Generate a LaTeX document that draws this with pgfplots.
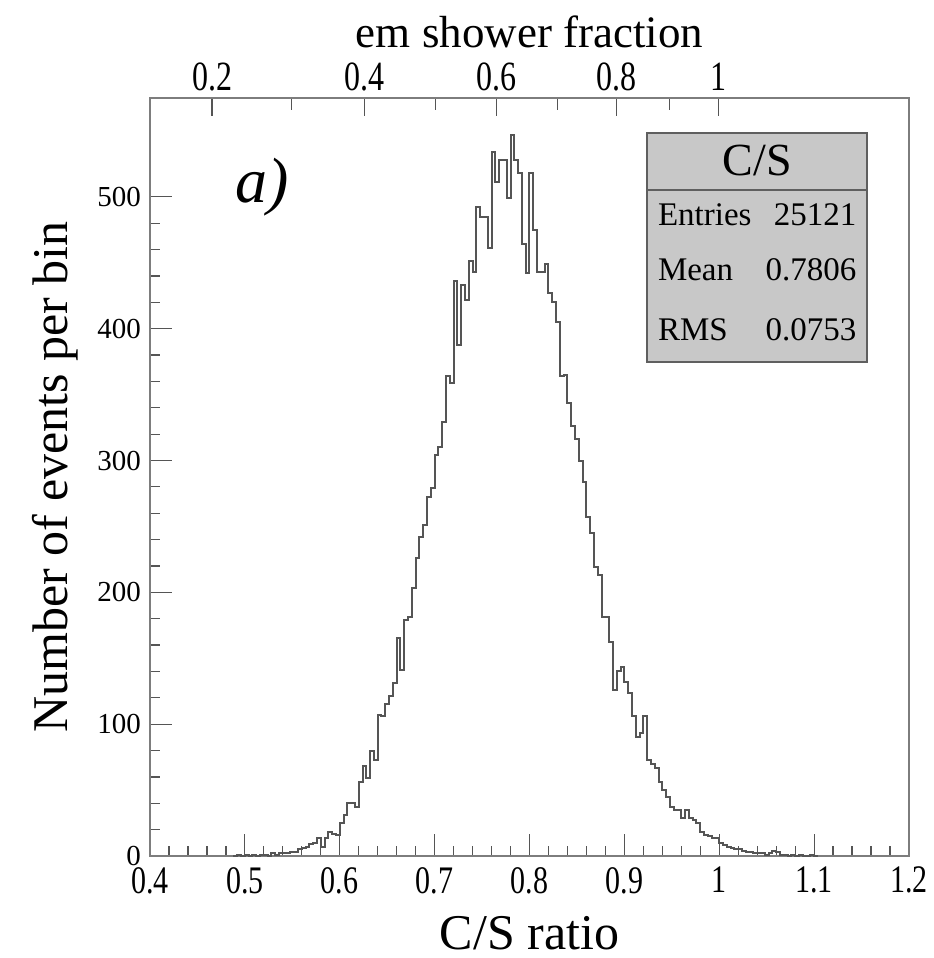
\documentclass[border=0pt]{standalone}
\usepackage{fontspec}
\setmainfont{Liberation Serif}
\usepackage{graphicx}
\usepackage{pgfplots}
\pgfplotsset{compat=1.18}

\definecolor{framegray}{RGB}{125,125,125}
\definecolor{histgray}{RGB}{85,85,85}
\definecolor{boxgray}{RGB}{200,200,200}
\definecolor{boxedge}{RGB}{95,95,95}

\newcommand{\tall}[1]{\scalebox{1}[1.3]{#1}}

% C/S histogram, bin width 0.004, left edge and count
\pgfplotstableread{
x n
0.488 0
0.492 1
0.496 0
0.500 1
0.504 0
0.508 1
0.512 0
0.516 1
0.520 1
0.524 0
0.528 2
0.532 1
0.536 2
0.540 2
0.544 2
0.548 3
0.552 3
0.556 5
0.560 6
0.564 7
0.568 9
0.572 10
0.576 14
0.580 7
0.584 14
0.588 18
0.592 17
0.596 16
0.600 25
0.604 31
0.608 40
0.612 40
0.616 37
0.620 56
0.624 68
0.628 59
0.632 80
0.636 73
0.640 107
0.644 106
0.648 115
0.652 121
0.656 131
0.660 165
0.664 141
0.668 179
0.672 181
0.676 203
0.680 226
0.684 242
0.688 251
0.692 272
0.696 279
0.700 304
0.704 310
0.708 329
0.712 364
0.716 359
0.720 436
0.724 388
0.728 433
0.732 422
0.736 451
0.740 443
0.744 492
0.748 485
0.752 485
0.756 461
0.760 534
0.764 511
0.768 528
0.772 528
0.776 499
0.780 547
0.784 528
0.788 518
0.792 464
0.796 442
0.800 518
0.804 475
0.808 443
0.812 443
0.816 449
0.820 427
0.824 420
0.828 405
0.832 364
0.836 365
0.840 344
0.844 326
0.848 316
0.852 300
0.856 284
0.860 257
0.864 245
0.868 219
0.872 213
0.876 181
0.880 181
0.884 162
0.888 126
0.892 140
0.896 143
0.900 132
0.904 124
0.908 106
0.912 90
0.916 93
0.920 106
0.924 73
0.928 70
0.932 67
0.936 56
0.940 50
0.944 45
0.948 37
0.952 35
0.956 35
0.960 29
0.964 35
0.968 29
0.972 27
0.976 25
0.980 18
0.984 16
0.988 15
0.992 14
0.996 14
1.000 10
1.004 8
1.008 7
1.012 6
1.016 5
1.020 5
1.024 4
1.028 3
1.032 3
1.036 2
1.040 2
1.044 2
1.048 1
1.052 2
1.056 4
1.060 3
1.064 1
1.068 1
1.072 0
1.076 1
1.080 0
1.084 1
1.088 0
1.092 0
1.096 1
1.100 0
1.104 0
}\cstable

\begin{document}
\begin{tikzpicture}
\path[use as bounding box] (0,0) rectangle (466.5pt,479pt);

% main axis: C/S ratio
\begin{axis}[
    at={(75pt,51pt)}, anchor=south west,
    scale only axis,
    width=379.5pt, height=379pt,
    xmin=0.4, xmax=1.2,
    ymin=0, ymax=575,
    xtick={0.4,0.5,0.6,0.7,0.8,0.9,1,1.1,1.2},
    ytick={0,100,200,300,400,500},
    minor x tick num=4,
    minor y tick num=4,
    tick align=inside,
    xtick pos=bottom, ytick pos=left,
    major tick length=11pt, minor tick length=5pt,
    axis line style={framegray, line width=1pt},
    every tick/.style={histgray, line width=0.6pt},
    /pgf/number format/assume math mode=true,
    xticklabel={\tall{\pgfmathprintnumber{\tick}}},
    xticklabel style={font=\fontsize{15}{18}\selectfont, yshift=-2pt},
    yticklabel style={font=\fontsize{14.5}{17}\selectfont, xshift=-1pt},
    xlabel={C/S ratio},
    ylabel={Number of events per bin},
    xlabel style={font=\fontsize{25}{30}\selectfont, at={(axis description cs:0.5,-0.124)}, anchor=base},
    ylabel style={font=\fontsize{25}{30}\selectfont, at={(axis description cs:-0.125,0.5)}, anchor=center},
]
\addplot[const plot, histgray, line width=1pt] table[x=x, y=n] {\cstable};

\node[font=\fontsize{32}{36}\selectfont\itshape] at (rel axis cs:0.148,0.883) {a)};

% statistics box
\draw[fill=boxgray, draw=boxedge, line width=1.2pt]
    (rel axis cs:0.655,0.652) rectangle (rel axis cs:0.945,0.954);
\draw[boxedge, line width=1.2pt] (rel axis cs:0.655,0.879) -- (rel axis cs:0.945,0.879);
\node[font=\fontsize{23}{26}\selectfont] at (rel axis cs:0.8,0.917) {C/S};
\node[font=\fontsize{16.5}{19}\selectfont, anchor=west] at (rel axis cs:0.66,0.846) {Entries};
\node[font=\fontsize{16.5}{19}\selectfont, anchor=east] at (rel axis cs:0.94,0.846) {25121};
\node[font=\fontsize{16.5}{19}\selectfont, anchor=west] at (rel axis cs:0.66,0.773) {Mean};
\node[font=\fontsize{16.5}{19}\selectfont, anchor=east] at (rel axis cs:0.94,0.773) {0.7806};
\node[font=\fontsize{16.5}{19}\selectfont, anchor=west] at (rel axis cs:0.66,0.694) {RMS};
\node[font=\fontsize{16.5}{19}\selectfont, anchor=east] at (rel axis cs:0.94,0.694) {0.0753};
\end{axis}

% top axis: em shower fraction
\begin{axis}[
    at={(75pt,51pt)}, anchor=south west,
    scale only axis,
    width=379.5pt, height=379pt,
    xmin=0.4, xmax=1.2,
    ymin=0, ymax=575,
    axis x line*=top,
    axis y line=none,
    xtick={0.4654,0.6259,0.7652,0.8918,0.9995},
    xticklabels={\tall{0.2},\tall{0.4},\tall{0.6},\tall{0.8},\tall{1}},
    minor xtick={0.5488,0.7008,0.8295,0.9478},
    tick align=inside,
    major tick length=9pt, minor tick length=6pt,
    axis line style={framegray, line width=1pt},
    every tick/.style={histgray, line width=0.6pt},
    xticklabel style={font=\fontsize{16}{19}\selectfont},
    xlabel={em shower fraction},
    xlabel style={font=\fontsize{22.5}{27}\selectfont, at={(axis description cs:0.5,1.067)}, anchor=base},
]
\addplot[draw=none] coordinates {(0.5,0)};
\end{axis}
\end{tikzpicture}
\end{document}
